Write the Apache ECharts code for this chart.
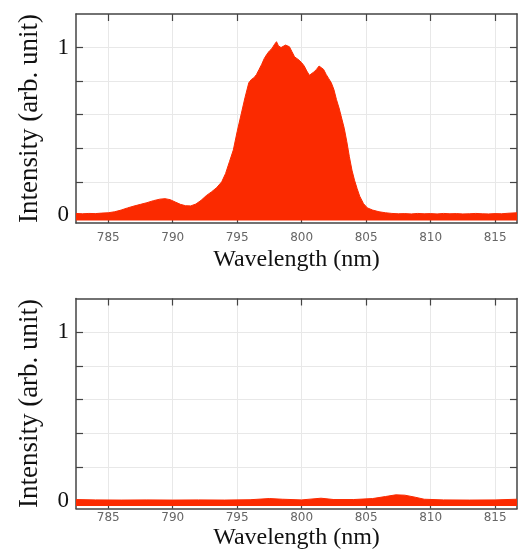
<!DOCTYPE html>
<html>
<head>
<meta charset="utf-8">
<script src="https://cdn.jsdelivr.net/npm/echarts@6/dist/echarts.min.js"></script>
<style>
  html, body { margin: 0; padding: 0; background: #fff; }
  #chart { width: 519px; height: 555px; }
</style>
</head>
<body>
<div id="chart"></div>
<script>
const xTicks = [785, 790, 795, 800, 805, 810, 815];
const yTicks = [0, 0.2, 0.4, 0.6, 0.8, 1];
const yLabels = [0, 1];

// top panel spectrum
const wlTop = [
  782.5, 783, 783.5, 784, 784.5, 785, 785.5, 786, 786.5, 787, 787.5, 788, 788.5, 789, 789.4,
  789.8, 790.2, 790.6, 791, 791.4, 791.8, 792.2, 792.6, 793, 793.4, 793.8, 794.1, 794.4, 794.7,
  795, 795.3, 795.6, 795.9, 796.1, 796.3, 796.5, 796.7, 796.9, 797.1, 797.3, 797.5, 797.7, 797.9,
  798.05, 798.2, 798.4, 798.55, 798.75, 798.9, 799.05, 799.25, 799.45, 799.6, 799.8, 800, 800.2,
  800.4, 800.6, 800.75, 800.95, 801.15, 801.35, 801.5, 801.7, 801.9, 802.1, 802.3, 802.5, 802.7,
  802.9, 803.1, 803.3, 803.5, 803.7, 803.9, 804.1, 804.3, 804.5, 804.8, 805.1, 805.5, 806, 806.5,
  807, 807.5, 808, 808.5, 809, 809.5, 810, 810.5, 811, 811.5, 812, 812.5, 813, 813.5, 814, 814.5,
  815, 815.5, 816, 816.7
];
const intTop = [
  0.012, 0.010, 0.012, 0.011, 0.014, 0.016, 0.022, 0.032, 0.045, 0.056, 0.066, 0.076, 0.088, 0.097, 0.100,
  0.094, 0.080, 0.066, 0.058, 0.057, 0.068, 0.090, 0.118, 0.140, 0.165, 0.200, 0.250, 0.320, 0.390,
  0.500, 0.600, 0.700, 0.790, 0.810, 0.820, 0.840, 0.870, 0.900, 0.935, 0.960, 0.980, 0.995, 1.020,
  1.035, 1.010, 1.000, 0.990, 1.015, 1.025, 1.005, 0.975, 0.945, 0.935, 0.925, 0.910, 0.890,
  0.860, 0.835, 0.830, 0.855, 0.870, 0.890, 0.895, 0.870, 0.840, 0.815, 0.790, 0.750, 0.690,
  0.640, 0.580, 0.520, 0.440, 0.350, 0.270, 0.210, 0.160, 0.115, 0.070, 0.045, 0.032, 0.022, 0.016,
  0.012, 0.010, 0.011, 0.009, 0.012, 0.010, 0.011, 0.009, 0.012, 0.010, 0.011, 0.009, 0.010, 0.012, 0.010, 0.009,
  0.011, 0.010, 0.013, 0.016
];

// bottom panel spectrum
const wlBottom = [
  782.5, 784, 786, 788, 790, 792, 794, 796, 797.5, 798.5, 800, 801.5, 802.5, 804, 805.5,
  806.5, 807.3, 808, 808.8, 809.5, 811, 813, 815, 816.7
];
const intBottom = [
  0.008, 0.006, 0.005, 0.006, 0.005, 0.006, 0.005, 0.007, 0.014, 0.010, 0.006, 0.016, 0.008, 0.008, 0.014,
  0.026, 0.036, 0.034, 0.022, 0.010, 0.006, 0.005, 0.006, 0.010
];

const RED = '#fb2a00';
const FRAME = '#444';
const SERIF = '"Liberation Serif", "Times New Roman", serif';

function pairs(xs, ys) {
  return xs.map((x, i) => [x, ys[i]]);
}

function xAxes(gridIndex, labelMargin, nameGap) {
  const common = {
    type: 'value',
    gridIndex: gridIndex,
    min: 782.5,
    max: 816.7,
    axisLine: { show: true, onZero: false, lineStyle: { color: FRAME, width: 1.5 } },
    axisTick: { show: true, inside: true, length: 7, customValues: xTicks, lineStyle: { color: FRAME, width: 1.2 } },
  };
  return [
    Object.assign({}, common, {
      position: 'bottom',
      name: 'Wavelength (nm)',
      nameLocation: 'middle',
      nameGap: nameGap,
      nameTextStyle: { fontFamily: SERIF, fontSize: 24, color: '#111' },
      axisLabel: { customValues: xTicks, margin: labelMargin, fontFamily: 'DejaVu Sans', fontSize: 12, color: '#666' },
      splitLine: { show: true, lineStyle: { color: '#e8e8e8', width: 1 } },
    }),
    Object.assign({}, common, {
      position: 'top',
      axisLabel: { show: false },
      splitLine: { show: false },
    }),
  ];
}

function yAxes(gridIndex) {
  const common = {
    type: 'value',
    gridIndex: gridIndex,
    min: -0.045,
    max: 1.2,
    axisLine: { show: true, onZero: false, lineStyle: { color: FRAME, width: 1.5 } },
    axisTick: { show: true, inside: true, length: 7, customValues: yTicks, lineStyle: { color: FRAME, width: 1.2 } },
  };
  return [
    Object.assign({}, common, {
      position: 'left',
      name: 'Intensity (arb. unit)',
      nameLocation: 'middle',
      nameGap: 33,
      nameTextStyle: { fontFamily: SERIF, fontSize: 27, color: '#111' },
      axisLabel: { customValues: yLabels, margin: 7, fontFamily: SERIF, fontSize: 23, color: '#111' },
      splitLine: { show: true, lineStyle: { color: '#e8e8e8', width: 1 } },
    }),
    Object.assign({}, common, {
      position: 'right',
      axisLabel: { show: false },
      splitLine: { show: false },
    }),
  ];
}

function spectrum(axisIndex, data) {
  return {
    type: 'line',
    xAxisIndex: axisIndex,
    yAxisIndex: axisIndex,
    data: data,
    showSymbol: false,
    smooth: false,
    lineStyle: { color: RED, width: 1 },
    areaStyle: { color: RED, opacity: 1, origin: -0.03 },
    z: 1,
    animation: false,
  };
}

const chart = echarts.init(document.getElementById('chart'), null, { renderer: 'canvas' });
chart.setOption({
  animation: false,
  grid: [
    { left: 76, right: 2, top: 14, height: 209 },
    { left: 76, right: 2, top: 298.5, height: 210 },
  ],
  xAxis: [].concat(xAxes(0, 9, 25), xAxes(1, 3, 17)),
  yAxis: [].concat(yAxes(0), yAxes(1)),
  series: [
    // x axes: 0,1 for grid 0 ; 2,3 for grid 1
    spectrum(0, pairs(wlTop, intTop)),
    spectrum(2, pairs(wlBottom, intBottom)),
  ],
});
</script>
</body>
</html>
